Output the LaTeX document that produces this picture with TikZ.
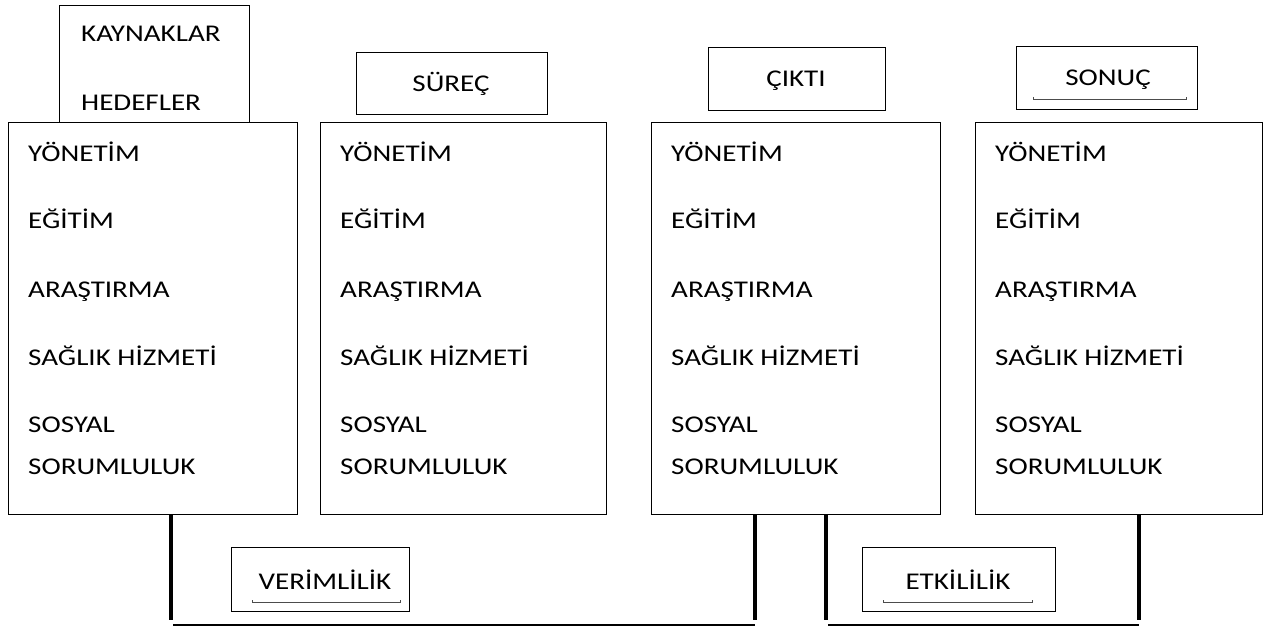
\documentclass[tikz,border=0pt]{standalone}
\usepackage{fontspec}
\setmainfont{Carlito}[FakeStretch=1.21]
\begin{document}
\begin{tikzpicture}[x=1pt,y=-1pt,
  box/.style={draw,line width=1.3pt,rectangle,anchor=north west,inner sep=0pt},
  lbl/.style={anchor=base west,inner sep=0pt,font=\fontsize{24}{28}\selectfont},
  clbl/.style={anchor=base,inner sep=0pt,font=\fontsize{24}{28}\selectfont},
  thick/.style={line width=4pt},
  base/.style={line width=1.3pt},
  uline/.style={line width=0.6pt,draw=black!70}]
\useasboundingbox (0,0) rectangle (1269,628);
% header boxes
\node[box,minimum width=190pt,minimum height=117pt] (kh) at (59,5) {};
\node[lbl] (kay) at (81,42) {KAYNAKLAR};
\node[lbl] (hed) at (81,111) {HEDEFLER};
\node[box,minimum width=191pt,minimum height=62pt] (sur) at (356,52) {};
\node[clbl] at (451,92) {SÜREÇ};
\node[box,minimum width=177pt,minimum height=63pt] (cik) at (708,47) {};
\node[clbl] at (796,87) {ÇIKTI};
\node[box,minimum width=181pt,minimum height=63pt] (son) at (1016,46) {};
\node[clbl] at (1108,86) {SONUÇ};
\draw[uline] (1033,97) -- (1033,99) -- (1186,99) -- (1186,97);
% main boxes
\foreach \n/\x/\w in {b1/8/289, b2/320/286, b3/651/289, b4/975/287}{
  \node[box,minimum width=\w pt,minimum height=392pt] (\n) at (\x,122) {};
  \node[lbl] at ([xshift=20pt]\n.north west |- 0,162) {YÖNETİM};
  \node[lbl] at ([xshift=20pt]\n.north west |- 0,229) {EĞİTİM};
  \node[lbl] at ([xshift=20pt]\n.north west |- 0,298) {ARAŞTIRMA};
  \node[lbl] at ([xshift=20pt]\n.north west |- 0,365) {SAĞLIK HİZMETİ};
  \node[lbl] at ([xshift=20pt]\n.north west |- 0,432) {SOSYAL};
  \node[lbl] at ([xshift=20pt]\n.north west |- 0,474) {SORUMLULUK};
}
% bottom brackets
\coordinate (v1t) at (171,515); \coordinate (v1b) at (171,620);
\coordinate (v2t) at (755,515); \coordinate (v2b) at (755,620);
\coordinate (v3t) at (826,515); \coordinate (v3b) at (826,620);
\coordinate (v4t) at (1139,515); \coordinate (v4b) at (1139,620);
\draw[thick] (v1t) -- (v1b);
\draw[thick] (v2t) -- (v2b);
\draw[thick] (v3t) -- (v3b);
\draw[thick] (v4t) -- (v4b);
\coordinate (h1a) at (173,625); \coordinate (h1b) at (755,625);
\coordinate (h2a) at (828,625); \coordinate (h2b) at (1139,625);
\draw[base] (h1a) -- (h1b);
\draw[base] (h2a) -- (h2b);
\node[box,minimum width=178pt,minimum height=64pt] (ver) at (231,547) {};
\node[clbl] at (325,589) {VERİMLİLİK};
\draw[uline] (252,600) -- (252,602) -- (400,602) -- (400,600);
\node[box,minimum width=193pt,minimum height=64pt] (etk) at (862,547) {};
\node[clbl] at (958,589) {ETKİLİLİK};
\draw[uline] (883,600) -- (883,602) -- (1032,602) -- (1032,600);
\end{tikzpicture}
\end{document}
